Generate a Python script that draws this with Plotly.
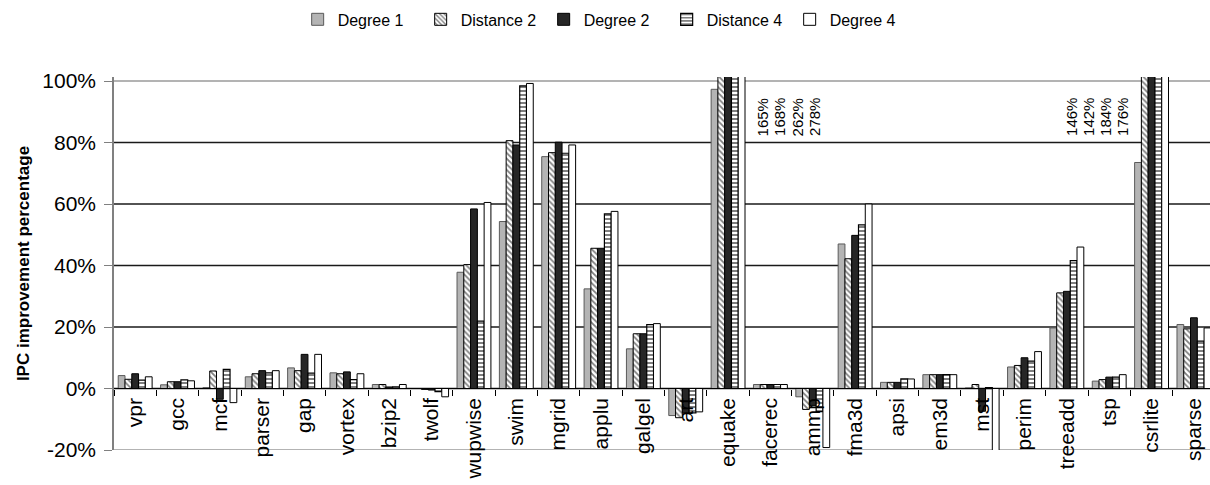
import plotly.graph_objects as go

# Benchmarks along the category axis
benchmarks = ["vpr", "gcc", "mcf", "parser", "gap", "vortex", "bzip2", "twolf",
              "wupwise", "swim", "mgrid", "applu", "galgel", "art", "equake",
              "facerec", "ammp", "fma3d", "apsi", "em3d", "mst", "perim",
              "treeadd", "tsp", "csrlite", "sparse"]

# IPC improvement (%) per prefetching configuration
degree1 = [4.2, 1.2, 0.3, 3.8, 6.7, 5.1, 1.3, 0.0, 37.8, 54.3, 75.4, 32.4, 12.9,
           -8.8, 97.3, 1.3, -2.7, 47.0, 2.0, 4.5, 0.2, 7.0, 19.7, 2.4, 73.5, 20.8]
distance2 = [3.0, 2.2, 5.7, 4.8, 5.8, 4.8, 1.3, -0.3, 40.3, 80.6, 76.7, 45.6, 17.8,
             -9.5, 165, 1.3, -6.8, 42.2, 2.0, 4.5, 1.3, 7.5, 31.1, 2.9, 146, 19.4]
degree2 = [4.8, 2.2, -3.5, 5.8, 11.1, 5.4, 0.5, -0.5, 58.4, 79.2, 80.1, 45.6, 17.8,
           -7.9, 168, 1.3, -5.5, 49.8, 2.0, 4.5, -7.4, 10.0, 31.6, 3.7, 142, 23.0]
distance4 = [2.7, 2.8, 6.2, 5.1, 5.0, 2.9, 0.5, -1.0, 21.9, 98.4, 76.5, 56.8, 20.8,
             -7.9, 262, 1.3, -7.5, 53.2, 3.1, 4.5, 0.3, 8.9, 41.6, 3.7, 184, 15.4]
degree4 = [3.8, 2.5, -4.6, 5.8, 11.1, 4.8, 1.3, -2.7, 60.5, 99.2, 79.2, 57.6, 21.1,
           -7.6, 278, 1.3, -19.2, 60.0, 3.1, 4.5, -22.0, 12.0, 46.0, 4.5, 176, 19.7]

series_names = ["Degree 1", "Distance 2", "Degree 2", "Distance 4", "Degree 4"]
series_values = [degree1, distance2, degree2, distance4, degree4]

y_ticks = [-20, 0, 20, 40, 60, 80, 100]
y_tick_text = [f"{t}%" for t in y_ticks]
Y_MIN, Y_MAX = -20, 101.3

SANS = "Liberation Sans, Arial, sans-serif"

styles = {
    "Degree 1": dict(color="#b4b4b4", line=dict(color="#5a5a5a", width=1)),
    "Distance 2": dict(color="white",
                       pattern=dict(shape="\\", fgcolor="black", bgcolor="white",
                                    size=4, solidity=0.45),
                       line=dict(color="black", width=1)),
    "Degree 2": dict(color="#262626", line=dict(color="black", width=1)),
    "Distance 4": dict(color="white",
                       pattern=dict(shape="-", fgcolor="black", bgcolor="white",
                                    size=4, solidity=0.5),
                       line=dict(color="black", width=1.2)),
    "Degree 4": dict(color="white", line=dict(color="black", width=1)),
}

fig = go.Figure()
for name, vals in zip(series_names, series_values):
    fig.add_trace(go.Bar(x=benchmarks, y=vals, name=name, marker=styles[name]))

# Horizontal rules: inner gridlines dark, plot edges grey
shapes = []
for t in y_ticks:
    edge = t in (y_ticks[0], y_ticks[-1])
    shapes.append(dict(type="line", xref="paper", x0=0, x1=1, yref="y", y0=t, y1=t,
                       line=dict(color="#9a9a9a" if edge else "#1a1a1a", width=1.3),
                       layer="below"))

# Value labels for bars that run past the top of the axis
annotations = []
for bench, first_shift, step in (("equake", 34, 17.5), ("csrlite", -80, 17)):
    idx = benchmarks.index(bench)
    clipped = [vals[idx] for vals in series_values if vals[idx] > Y_MAX]
    for k, v in enumerate(clipped):
        annotations.append(dict(x=bench, y=95, xref="x", yref="y", text=f"{v:g}%",
                                textangle=-90, showarrow=False, xanchor="center",
                                yanchor="top", xshift=first_shift + k * step,
                                font=dict(family=SANS, size=15, color="black")))

fig.update_layout(
    width=1210, height=485,
    margin=dict(l=114, r=0, t=77, b=35),
    paper_bgcolor="white", plot_bgcolor="white",
    barmode="group", bargap=0.2, bargroupgap=0,
    font=dict(family=SANS, color="black"),
    showlegend=True,
    legend=dict(orientation="h", xref="container", yref="container",
                x=0.246, y=0.995, xanchor="left", yanchor="top",
                font=dict(family=SANS, size=16, color="black"),
                entrywidth=78, entrywidthmode="pixels", traceorder="normal"),
    shapes=shapes, annotations=annotations,
    xaxis=dict(type="category", range=[-0.5, 25.38], anchor="free",
               position=(0 - Y_MIN) / (Y_MAX - Y_MIN),
               showline=True, linecolor="black", linewidth=1.2,
               ticks="outside", tickson="boundaries", ticklen=6, tickcolor="black",
               tickangle=-90, tickfont=dict(family=SANS, size=21, color="black"),
               showgrid=False, zeroline=False),
    yaxis=dict(range=[Y_MIN, Y_MAX], tickvals=y_ticks, ticktext=y_tick_text,
               showgrid=False, zeroline=False,
               showline=True, linecolor="#808080", linewidth=1.5,
               ticks="outside", ticklen=8, tickcolor="#808080",
               ticklabelstandoff=4,
               tickfont=dict(family=SANS, size=21, color="black"),
               title=dict(text="<b>IPC improvement percentage</b>", standoff=8,
                          font=dict(family=SANS, size=17, color="black"))),
)

fig.write_html("out.html")
